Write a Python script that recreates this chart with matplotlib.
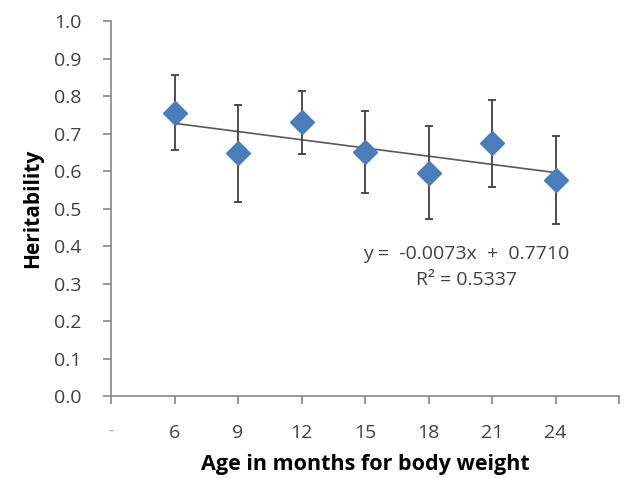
import numpy as np
import matplotlib
matplotlib.use("Agg")
import matplotlib.pyplot as plt

plt.rcParams['font.family'] = ['Open Sans', 'DejaVu Sans']

# data
ages = [6, 9, 12, 15, 18, 21, 24]
heritability = [0.755, 0.647, 0.730, 0.650, 0.596, 0.674, 0.576]
errors = [0.100, 0.130, 0.084, 0.109, 0.124, 0.116, 0.118]
slope = -0.0073
intercept = 0.7710
r2 = 0.5337

x_ticks = [3, 6, 9, 12, 15, 18, 21, 24, 27]
x_tick_labels = ['-', '6', '9', '12', '15', '18', '21', '24', '']
y_ticks = [0.0, 0.1, 0.2, 0.3, 0.4, 0.5, 0.6, 0.7, 0.8, 0.9, 1.0]

fig = plt.figure(figsize=(6.41, 4.78), dpi=100)
ax = fig.add_axes([0.1732, 0.1715, 0.7925, 0.7845])

# trend line
fit_x = np.array([ages[0], ages[-1]])
ax.plot(fit_x, slope * fit_x + intercept, color='#595959', lw=1.2, zorder=2)

ax.errorbar(ages, heritability, yerr=errors, fmt='none', ecolor='#404040',
            elinewidth=1.3, capsize=3, capthick=1.3, zorder=3)
ax.plot(ages, heritability, linestyle='none', marker='D', markersize=12,
        color='#4a7ebb', markeredgecolor='#4a7ebb', zorder=4)

ax.set_xlim(3, 27)
ax.set_ylim(0, 1.0)
ax.set_xticks(x_ticks)
ax.set_xticklabels(x_tick_labels)
ax.set_yticks(y_ticks)
ax.set_yticklabels([f'{v:.1f}' for v in y_ticks])

for s in ['top', 'right']:
    ax.spines[s].set_visible(False)
for s in ['left', 'bottom']:
    ax.spines[s].set_color('#868686')
    ax.spines[s].set_linewidth(1.2)
ax.tick_params(axis='both', direction='out', length=6, width=1.2,
               color='#868686', labelsize=14, labelcolor='#404040')
ax.tick_params(axis='x', pad=14)
ax.tick_params(axis='y', pad=15)
first = ax.get_xticklabels()[0]
first.set_color('#a8a8a8')
first.set_fontsize(12)

ax.set_xlabel('Age in months for body weight', fontsize=15.5, fontweight='bold',
              labelpad=9)
ax.set_ylabel('Heritability', fontsize=15, fontweight='bold', labelpad=8)

ax.text(0.70, 0.379, f'y =  {slope:.4f}x  +  {intercept:.4f}', transform=ax.transAxes,
        ha='center', va='center', fontsize=14, color='#404040')
ax.text(0.70, 0.309, f'R² = {r2:.4f}', transform=ax.transAxes,
        ha='center', va='center', fontsize=14, color='#404040')

fig.savefig('out.png', dpi=100)
